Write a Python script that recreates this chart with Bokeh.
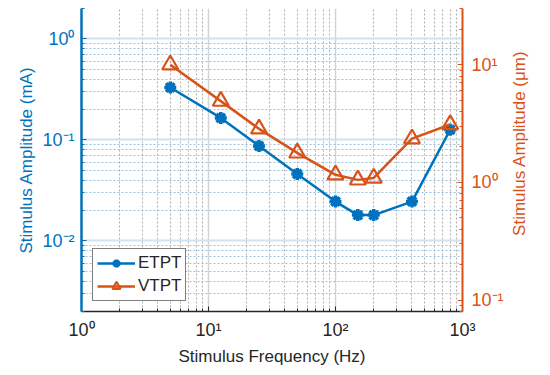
import math
from bokeh.plotting import figure
from bokeh.models import (LogAxis, Range1d, LogScale, FixedTicker, Legend, LegendItem)
from bokeh.embed import file_html
from bokeh.resources import INLINE

# ---- data ----
freq_hz = [5, 12.5, 25, 50, 100, 150, 200, 400, 800]
etpt_ma = [0.33, 0.165, 0.087, 0.046, 0.0245, 0.018, 0.018, 0.0245, 0.126]
vtpt_um = [10.0, 4.9, 2.85, 1.78, 1.16, 1.05, 1.09, 2.35, 3.1]

x_ticks = [1, 10, 100, 1000]
x_tick_labels = ["10⁰", "10¹", "10²", "10³"]
left_ticks = [0.01, 0.1, 1]
left_tick_labels = ["10⁻²", "10⁻¹", "10⁰"]
right_ticks = [0.1, 1, 10]
right_tick_labels = ["10⁻¹", "10⁰", "10¹"]

BLUE = "#0072BD"
ORANGE = "#D95319"
DARK = "#262626"
FONT = "Liberation Sans"

def minors(lo_exp, hi_exp, lo, hi):
    out = []
    for e in range(lo_exp, hi_exp + 1):
        for m in range(2, 10):
            v = m * 10.0 ** e
            if lo - 1e-12 <= v <= hi + 1e-12:
                out.append(v)
    return out

p = figure(width=550, height=375, x_axis_type="log", y_axis_type="log",
           x_range=Range1d(1, 1000), y_range=Range1d(0.002, 2),
           output_backend="svg", toolbar_location=None,
           min_border_left=81, min_border_right=88, min_border_top=8, min_border_bottom=64)
p.outline_line_color = None
p.background_fill_color = "white"
p.border_fill_color = "white"

p.extra_y_ranges = {"r": Range1d(0.08, 30)}
p.extra_y_scales = {"r": LogScale()}

xt = FixedTicker(ticks=x_ticks, minor_ticks=minors(0, 2, 1, 1000))
lt = FixedTicker(ticks=left_ticks, minor_ticks=minors(-3, 0, 0.002, 2))
rt = FixedTicker(ticks=right_ticks, minor_ticks=minors(-2, 1, 0.08, 30))

def style_axis(ax, color, ticker, labels, ticks):
    ax.ticker = ticker
    ax.major_label_overrides = {t: l for t, l in zip(ticks, labels)}
    ax.axis_line_color = color
    ax.major_tick_line_color = color
    ax.minor_tick_line_color = color
    ax.major_label_text_color = color
    ax.axis_label_text_color = color
    ax.major_tick_in = 5
    ax.major_tick_out = 0
    ax.minor_tick_in = 3
    ax.minor_tick_out = 0
    ax.major_label_text_font = FONT
    ax.major_label_text_font_size = "18px"
    ax.axis_label_text_font = FONT
    ax.axis_label_text_font_size = "17px"
    ax.axis_label_text_font_style = "normal"

xa = p.xaxis[0]
style_axis(xa, DARK, xt, x_tick_labels, x_ticks)
xa.axis_line_width = 1.5
xa.axis_label = "Stimulus Frequency (Hz)"
xa.major_label_standoff = 8
xa.axis_label_standoff = 4

ya = p.yaxis[0]
style_axis(ya, BLUE, lt, left_tick_labels, left_ticks)
ya.axis_line_width = 2.5
ya.axis_label = "Stimulus Amplitude (mA)"
ya.major_label_standoff = 7
ya.axis_label_standoff = 3

ra = LogAxis(y_range_name="r")
style_axis(ra, ORANGE, rt, right_tick_labels, right_ticks)
ra.axis_line_width = 2
ra.major_label_standoff = 9
ra.axis_label = "\u00a0" * 16 + "Stimulus Amplitude (μm)"
ra.axis_label_standoff = 13
ra.axis_label_orientation = math.pi / 2
ra.axis_label_align = "start"
p.add_layout(ra, "right")

p.xgrid.ticker = xt
p.xgrid.grid_line_color = "#d4d4d4"
p.xgrid.grid_line_width = 1.5
p.xgrid.minor_grid_line_color = "#b0b0b0"
p.xgrid.minor_grid_line_dash = "2 2"
p.xgrid.minor_grid_line_width = 1

p.ygrid.ticker = lt
p.ygrid.grid_line_color = "#d0e1ef"
p.ygrid.grid_line_width = 2
p.ygrid.minor_grid_line_color = "#99c2e2"
p.ygrid.minor_grid_line_dash = "2 2"
p.ygrid.minor_grid_line_width = 1

l1 = p.line(freq_hz, etpt_ma, line_color=BLUE, line_width=2.5)
s1 = p.scatter(freq_hz, etpt_ma, marker="asterisk", size=12, line_color=BLUE, line_width=3.5)
l2 = p.line(freq_hz, vtpt_um, line_color=ORANGE, line_width=2.5, y_range_name="r")
s2 = p.scatter(freq_hz, vtpt_um, marker="triangle", size=16, line_color=ORANGE,
               fill_color=None, line_width=2.2, y_range_name="r")

legend = Legend(items=[LegendItem(label="ETPT", renderers=[l1, s1]),
                       LegendItem(label="VTPT", renderers=[l2, s2])],
                location=(11, 10))
legend.border_line_color = "black"
legend.border_line_width = 1.5
legend.background_fill_alpha = 1.0
legend.label_text_font = FONT
legend.label_text_font_size = "17px"
legend.label_text_color = DARK
legend.glyph_width = 38
legend.glyph_height = 20
legend.label_height = 20
legend.spacing = 3
legend.padding = 4
legend.margin = 0
legend.label_standoff = 3
p.add_layout(legend)

open("out.html", "w").write(file_html(p, INLINE))
